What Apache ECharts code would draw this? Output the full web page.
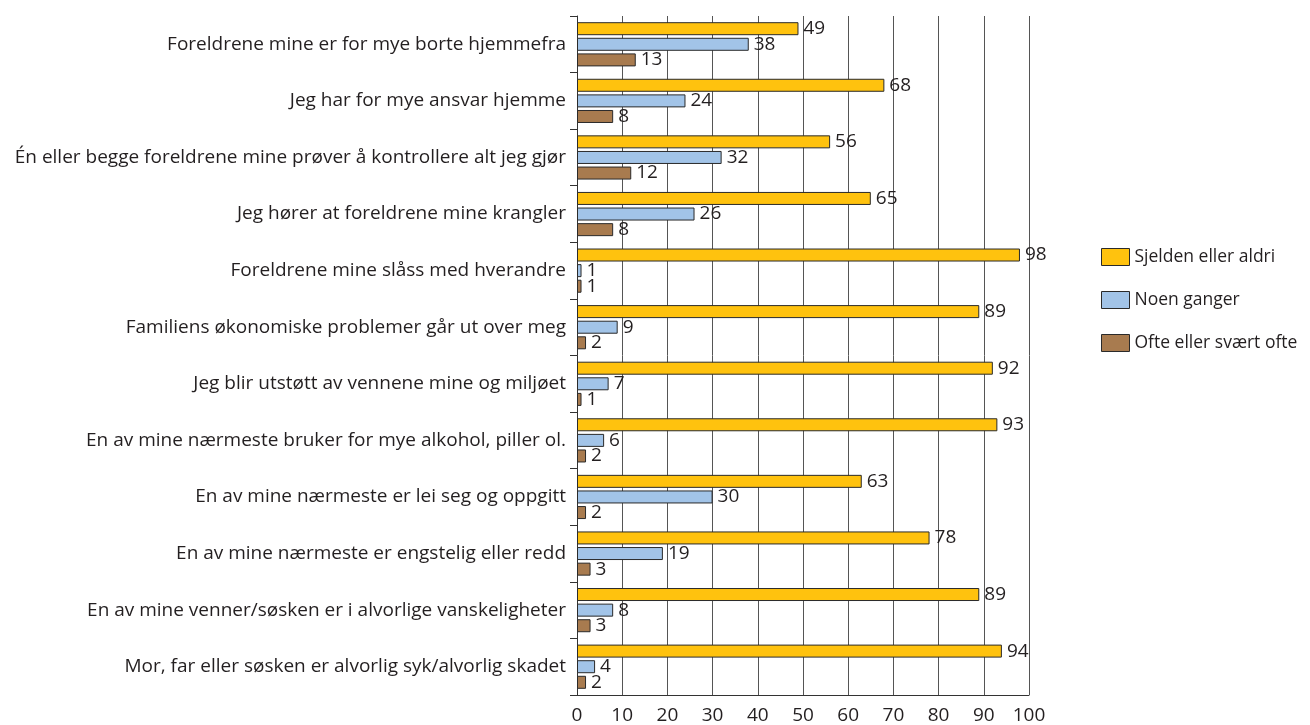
<!DOCTYPE html>
<html><head><meta charset="utf-8">
<script src="https://cdn.jsdelivr.net/npm/echarts@6/dist/echarts.min.js"></script>
<style>html,body{margin:0;padding:0;background:#fff}#c{width:1310px;height:725px}</style>
</head><body><div id="c"></div>
<script>
const categories = [
  "Foreldrene mine er for mye borte hjemmefra",
  "Jeg har for mye ansvar hjemme",
  "Én eller begge foreldrene mine prøver å kontrollere alt jeg gjør",
  "Jeg hører at foreldrene mine krangler",
  "Foreldrene mine slåss med hverandre",
  "Familiens økonomiske problemer går ut over meg",
  "Jeg blir utstøtt av vennene mine og miljøet",
  "En av mine nærmeste bruker for mye alkohol, piller ol.",
  "En av mine nærmeste er lei seg og oppgitt",
  "En av mine nærmeste er engstelig eller redd",
  "En av mine venner/søsken er i alvorlige vanskeligheter",
  "Mor, far eller søsken er alvorlig syk/alvorlig skadet"
];
const seriesNames = ["Sjelden eller aldri", "Noen ganger", "Ofte eller svært ofte"];
const sjelden = [49, 68, 56, 65, 98, 89, 92, 93, 63, 78, 89, 94];
const noen = [38, 24, 32, 26, 1, 9, 7, 6, 30, 19, 8, 4];
const ofte = [13, 8, 12, 8, 1, 2, 1, 2, 2, 3, 3, 2];
const xTicks = [0, 10, 20, 30, 40, 50, 60, 70, 80, 90, 100];

const colors = ["#FFC20E", "#A2C4E8", "#A87B4F"];
const font = "Open Sans";
const fs = 19;
const txt = "#231f20";
const chart = echarts.init(document.getElementById('c'));
const mk = (name, data, i) => ({
  name, type: 'bar', data, barWidth: 13, barGap: '20%',
  itemStyle: { color: colors[i], borderColor: '#2a2a2a', borderWidth: 1 },
  label: { show: true, position: 'right', distance: 5, color: txt, fontFamily: font, fontSize: fs }
});
chart.setOption({
  animation: false,
  textStyle: { fontFamily: font },
  grid: { left: 577, right: 281, top: 16, bottom: 30, containLabel: false },
  legend: {
    orient: 'vertical', left: 1096, top: 243, itemWidth: 28, itemHeight: 17, itemGap: 25, icon: 'rect',
    textStyle: { color: txt, fontSize: 17.5, fontFamily: font },
    data: seriesNames.map((n, i) => ({ name: n, itemStyle: { color: colors[i], borderColor: '#2a2a2a', borderWidth: 1 } }))
  },
  xAxis: {
    type: 'value', min: 0, max: 100, interval: 10,
    axisLine: { show: true, lineStyle: { color: '#333', width: 1 } },
    axisTick: { show: false },
    axisLabel: { color: txt, fontSize: fs, fontFamily: font, margin: 11, formatter: v => xTicks.includes(v) ? String(v) : '' },
    splitLine: { show: true, lineStyle: { color: '#555', width: 1 } }
  },
  yAxis: {
    type: 'category', data: categories, inverse: true,
    axisLine: { show: true, lineStyle: { color: '#333', width: 1 } },
    axisTick: { show: true, length: 7, lineStyle: { color: '#333' } },
    axisLabel: { color: txt, fontSize: fs, fontFamily: font, margin: 11 }
  },
  series: [mk(seriesNames[0], sjelden, 0), mk(seriesNames[1], noen, 1), mk(seriesNames[2], ofte, 2)]
});
</script></body></html>
